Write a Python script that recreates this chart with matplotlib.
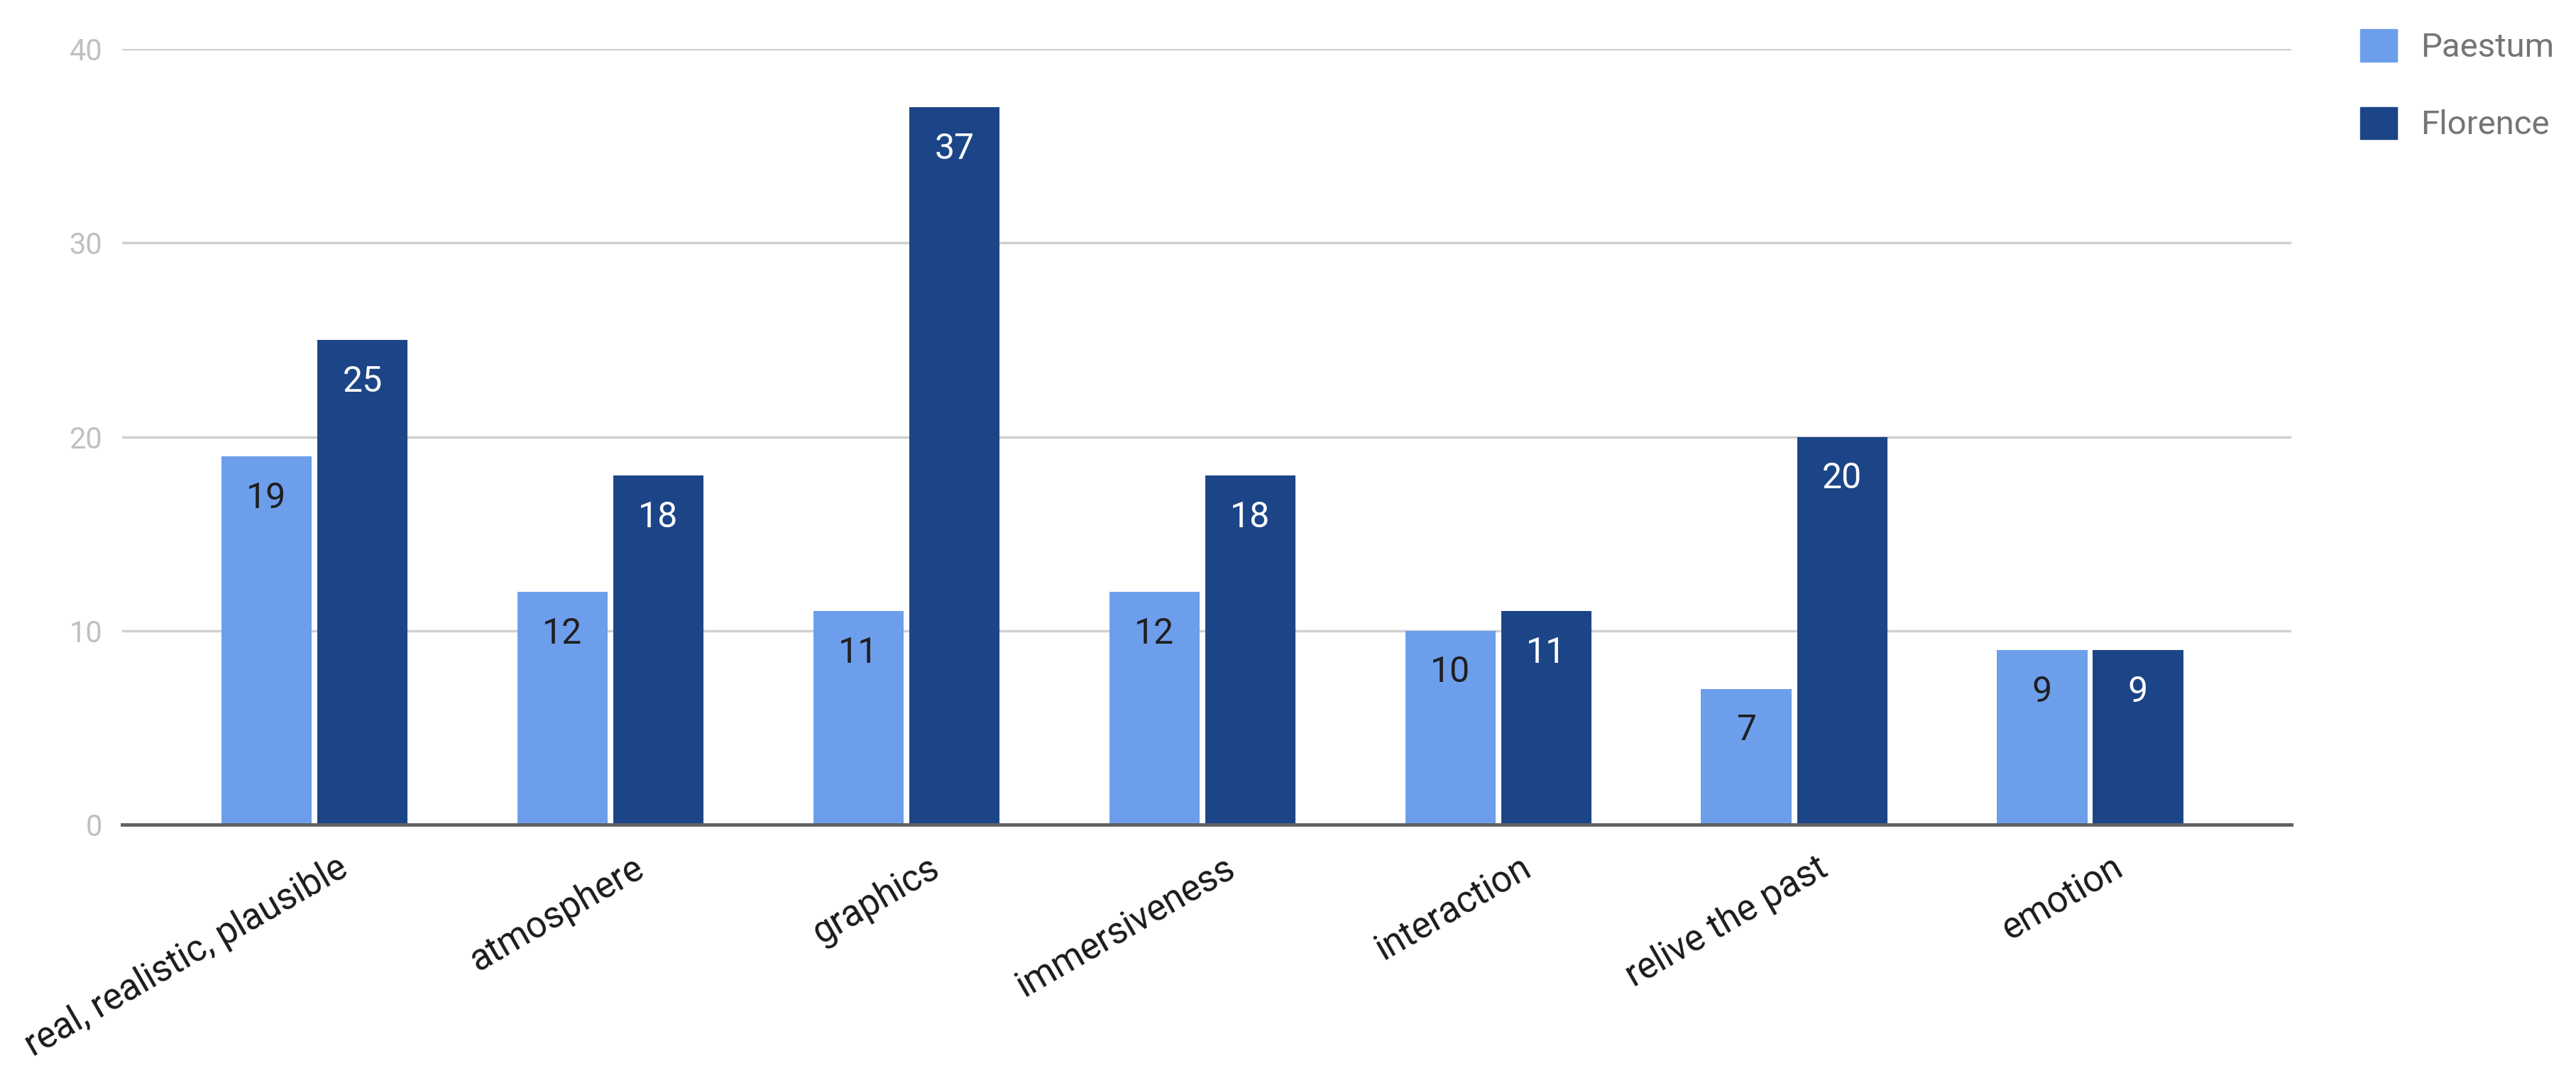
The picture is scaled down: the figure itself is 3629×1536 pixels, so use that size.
import numpy as np
import matplotlib.pyplot as plt
from matplotlib.patches import Patch
from matplotlib.transforms import ScaledTranslation

plt.rcParams['font.family'] = ['Roboto', 'DejaVu Sans']

# data
categories = ['real, realistic, plausible', 'atmosphere', 'graphics', 'immersiveness',
              'interaction', 'relive the past', 'emotion']
paestum = [19, 12, 11, 12, 10, 7, 9]
florence = [25, 18, 37, 18, 11, 20, 9]
series_names = ['Paestum', 'Florence']
y_ticks = [0, 10, 20, 30, 40]

c_light = '#6d9eeb'
c_dark = '#1c4587'

fig = plt.figure(figsize=(36.29, 15.36), dpi=100)
ax = fig.add_axes([0.0474, 0.2435, 0.8421, 0.7115])

x = np.arange(len(categories))
w = 0.305
off = 0.162
b1 = ax.bar(x - off, paestum, w, color=c_light, zorder=3)
b2 = ax.bar(x + off, florence, w, color=c_dark, zorder=3)

# value labels inside the bars, near the top
for rect, v in zip(b1, paestum):
    ax.annotate(str(v), (rect.get_x() + rect.get_width() / 2, v), xytext=(0, -25),
                textcoords='offset points', ha='center', va='top', fontsize=36,
                color='#1f1f1f', zorder=4)
for rect, v in zip(b2, florence):
    ax.annotate(str(v), (rect.get_x() + rect.get_width() / 2, v), xytext=(0, -25),
                textcoords='offset points', ha='center', va='top', fontsize=36,
                color='white', zorder=4)

ax.set_xlim(-0.65, 6.68)
ax.set_ylim(0, 40)
ax.set_yticks(y_ticks)
ax.set_yticklabels([str(t) for t in y_ticks], fontsize=30, color='#c0c0c0')
ax.yaxis.grid(True, color='#d0d0d0', linewidth=2.5, zorder=0)
ax.tick_params(axis='y', length=0, pad=20)
ax.tick_params(axis='x', length=0, pad=26)

ax.set_xticks(x)
ax.set_xticklabels(categories, rotation=30, ha='right', rotation_mode='anchor',
                   fontsize=37, color='#1a1a1a')
shift = ScaledTranslation(22 / 72, 0, fig.dpi_scale_trans)
for lbl in ax.get_xticklabels():
    lbl.set_transform(lbl.get_transform() + shift)

for s in ['top', 'right', 'left']:
    ax.spines[s].set_visible(False)
ax.spines['bottom'].set_color('#616161')
ax.spines['bottom'].set_linewidth(3.5)
ax.spines['bottom'].set_zorder(5)

handles = [Patch(color=c_light), Patch(color=c_dark)]
leg = fig.legend(handles, series_names, loc='upper left', bbox_to_anchor=(0.9162, 0.973),
                 frameon=False, fontsize=34, handlelength=1.1, handleheight=1.1,
                 labelspacing=1.3, handletextpad=0.7, borderpad=0, borderaxespad=0)
for t in leg.get_texts():
    t.set_color('#757575')

fig.savefig('out.png', dpi=100, facecolor='white')
